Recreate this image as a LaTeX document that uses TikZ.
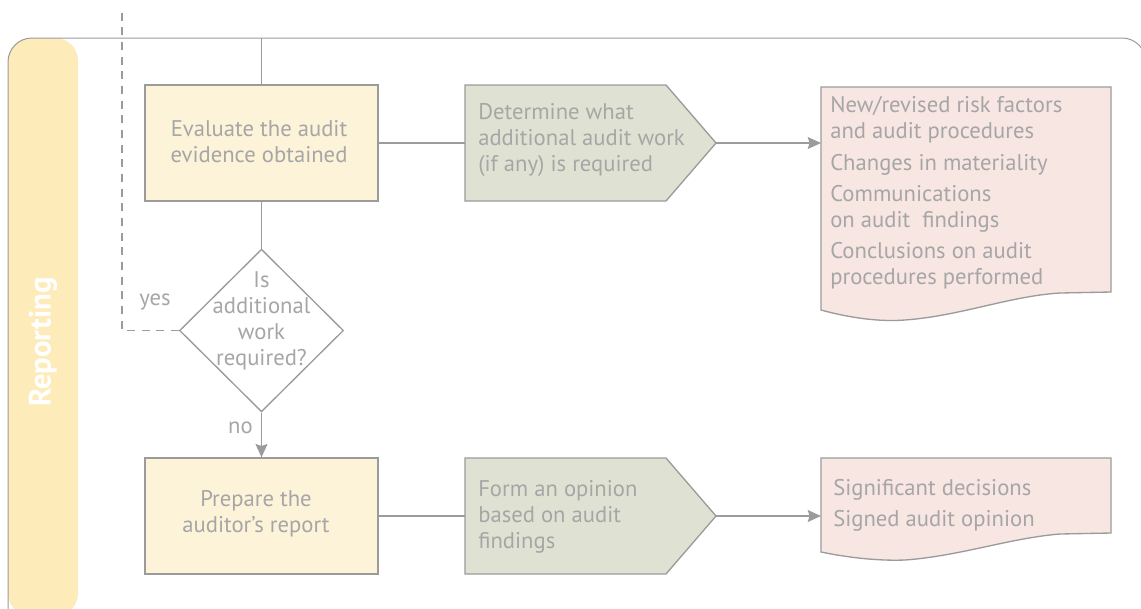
\documentclass[tikz,border=0pt]{standalone}
\usepackage{fontspec}
\setmainfont{PT Sans}
\usetikzlibrary{shapes.geometric,arrows.meta}
\definecolor{txtgray}{HTML}{A6A6A6}
\definecolor{linegray}{HTML}{9B9B9B}
\definecolor{bandyellow}{HTML}{FDEBB9}
\definecolor{boxyellow}{HTML}{FDF3D9}
\definecolor{boxgreen}{HTML}{DFE2D2}
\definecolor{boxpink}{HTML}{F7E6E2}
\begin{document}
\begin{tikzpicture}[x=0.75pt,y=-0.75pt,
  font=\fontsize{17}{19.5}\selectfont,
  conn/.style={draw=linegray,line width=1.1pt},
  arr/.style={conn,-{Stealth[length=10pt,width=9pt,inset=1.5pt]}},
  dashconn/.style={draw=linegray,line width=1pt,dash pattern=on 6pt off 5pt},
  procbox/.style={draw=linegray,fill=boxyellow,line width=1pt,minimum width=174.75pt,minimum height=87pt,inner sep=0pt},
  decision/.style={diamond,draw=linegray,fill=white,line width=1pt,minimum width=123pt,minimum height=122pt,inner sep=0pt},
  pentshape/.style={draw=linegray,fill=boxgreen,line width=1pt},
  docshape/.style={draw=linegray,fill=boxpink,line width=1pt},
  label/.style={text=txtgray,inner sep=0pt},
  ctext/.style={label,align=center},
  ltext/.style={label,align=left},
]
\useasboundingbox (0,0) rectangle (1141,608);
\clip (0,0) rectangle (1141,608);
% lane band and frame
\fill[bandyellow,rounded corners=17pt] (8,38) rectangle (78,616);
\draw[linegray,line width=0.75pt,rounded corners=18pt] (8,616) -- (8,38) -- (1146,38) -- (1146,640);
\node[rotate=90,text=white,font=\fontsize{23}{26}\bfseries] (lane) at (43,342) {Reporting};

% nodes
\node[procbox] (eval) at (261.5,143) {};
\node[ctext] (evaltxt) at (259,142) {Evaluate the audit\\evidence obtained};
\node[decision] (dec) at (261.5,330.5) {};
\node[ctext] (dectxt) at (261.5,321) {Is\\additional\\work\\required?};
\node[procbox] (prep) at (261.5,516) {};
\node[ctext] (preptxt) at (256,514) {Prepare the\\auditor’s report};

% pentagon 1
\draw[pentshape] (465,85) -- (666,85) -- (716,143) -- (666,201) -- (465,201) -- cycle;
\coordinate (g1w) at (465,143);
\coordinate (g1e) at (716,143);
\node[ltext,anchor=west] (g1txt) at (478,140) {Determine what\\additional audit work\\(if any) is required};

% pentagon 2
\draw[pentshape] (465,458) -- (666,458) -- (716,516) -- (666,574) -- (465,574) -- cycle;
\coordinate (g2w) at (465,516);
\coordinate (g2e) at (716,516);
\node[ltext,anchor=west] (g2txt) at (478,517) {Form an opinion\\based on audit\\findings};

% document 1
\draw[docshape] (821,87) -- (1111,87) -- (1111,292) -- (1060,293)
  .. controls (1010,296) and (960,316) .. (905,320)
  .. controls (880,322) and (850,318) .. (821,310) -- cycle;
\coordinate (d1w) at (821,143);
\node[ltext,anchor=west] (d1txt) at (830,193) {New/revised risk factors\\and audit procedures\\[4pt]Changes in materiality\\[4pt]Communications\\on audit\ \ findings\\[4pt]Conclusions on audit\\procedures performed};

% document 2
\draw[docshape] (821,458) -- (1111,458) -- (1111,533) -- (1060,534)
  .. controls (1010,538) and (960,556) .. (905,560)
  .. controls (880,561) and (850,558) .. (821,552) -- cycle;
\coordinate (d2w) at (821,516);
\node[ltext,anchor=west] (d2txt) at (833,505) {Significant decisions\\[4pt]Signed audit opinion};

% connectors
\coordinate (top) at (261.5,38);
\coordinate (dtop) at (122,12);
\coordinate (dcorner) at (122,330.5);
\draw[conn] (top) -- (eval.north);
\draw[conn] (eval.south) -- (dec.north);
\draw[arr] (dec.south) -- node[label,pos=0.35,left=6pt] (no) {no} (prep.north);
\draw[dashconn] (dec.west) -- (dcorner) -- (dtop);
\node[label] (yes) at (155,302) {yes};
\draw[conn] (eval.east) -- (g1w);
\draw[arr] (g1e) -- (d1w);
\draw[conn] (prep.east) -- (g2w);
\draw[arr] (g2e) -- (d2w);
\end{tikzpicture}
\end{document}
